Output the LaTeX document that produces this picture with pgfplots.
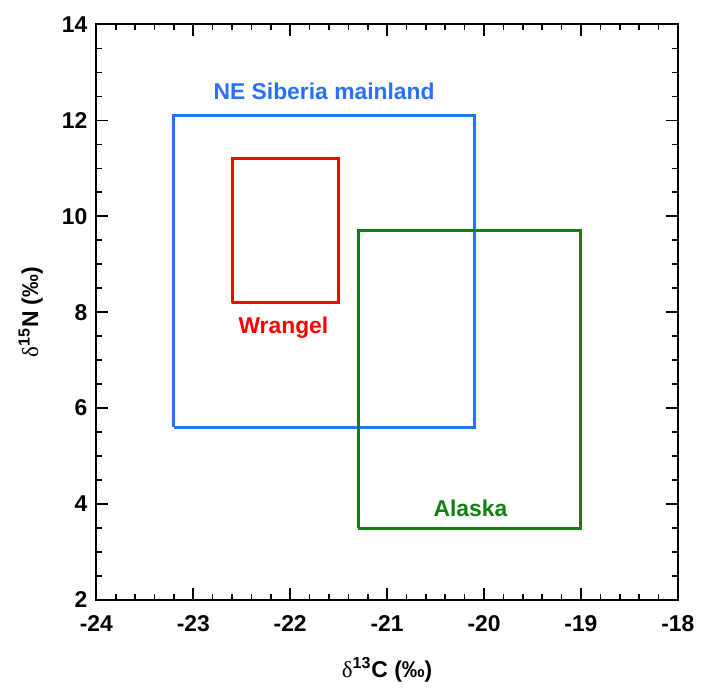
\documentclass[border=0pt]{standalone}
\usepackage{pgfplots}
\pgfplotsset{compat=1.18}
\usepackage{fontspec}
\setmainfont{Liberation Sans}
\newfontfamily\symfont{Liberation Serif}

\definecolor{sibblue}{RGB}{41,112,255}
\definecolor{wrred}{RGB}{255,0,0}
\definecolor{akgreen}{RGB}{16,128,16}

\newcommand{\lblfont}{\fontsize{11.5}{13}\selectfont\bfseries}

\begin{document}
\begin{tikzpicture}
\begin{axis}[
    scale only axis,
    width=292.5pt, height=289.5pt,
    xmin=-24, xmax=-18, ymin=2, ymax=14,
    xtick={-24,-23,...,-18},
    ytick={2,4,...,14},
    minor x tick num=4,
    minor y tick num=3,
    tick align=inside,
    major tick length=6pt,
    minor tick length=3pt,
    axis line style={line width=1pt},
    every tick/.style={black, line width=0.8pt},
    /pgf/number format/assume math mode=true,
    ticklabel style={font=\lblfont},
    xticklabel style={yshift=-4.5pt},
    yticklabel style={xshift=-1pt},
    xlabel={{\symfont\mdseries δ}\textsuperscript{13}C (‰)},
    ylabel={{\symfont\mdseries δ}\textsuperscript{15}N (‰)},
    every axis x label/.style={at={(axis description cs:0.5,0)}, anchor=center, yshift=-35pt, font=\lblfont},
    every axis y label/.style={at={(axis description cs:0,0.5)}, anchor=center, rotate=90, yshift=33pt, font=\lblfont},
    clip=false,
]
% NE Siberia mainland
\addplot[sibblue, line width=1.5pt, mark=none] coordinates {
    (-23.2,5.6) (-23.2,12.1) (-20.1,12.1) (-20.1,5.6) (-23.2,5.6)
};
% Wrangel
\addplot[wrred, line width=1.5pt, mark=none] coordinates {
    (-22.6,8.2) (-22.6,11.2) (-21.5,11.2) (-21.5,8.2) (-22.6,8.2)
};
% Alaska
\addplot[akgreen, line width=1.5pt, mark=none] coordinates {
    (-21.3,3.5) (-21.3,9.7) (-19.0,9.7) (-19.0,3.5) (-21.3,3.5)
};
\node[sibblue, font=\lblfont] at (axis cs:-21.65,12.6) {NE Siberia mainland};
\node[wrred, font=\lblfont] at (axis cs:-22.07,7.68) {Wrangel};
\node[akgreen, font=\lblfont] at (axis cs:-20.14,3.91) {Alaska};
\end{axis}
\path (current bounding box.south west) ++(-6pt,-2pt) coordinate (padSW);
\path (current bounding box.north east) ++(0,5pt) coordinate (padNE);
\path (padSW) rectangle (padNE);
\end{tikzpicture}
\end{document}
